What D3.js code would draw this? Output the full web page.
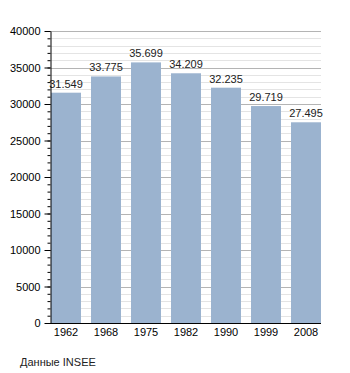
<!DOCTYPE html>
<html>
<head>
<meta charset="utf-8">
<script src="https://cdn.jsdelivr.net/npm/d3@7"></script>
<style>
  body { margin: 0; background: #fff; }
  text { font-family: "Liberation Sans", Arial, sans-serif; }
</style>
</head>
<body>
<div id="chart"></div>
<script>
// population by census year
const years = ["1962", "1968", "1975", "1982", "1990", "1999", "2008"];
const population = [31549, 33775, 35699, 34209, 32235, 29719, 27495];
const labels = ["31.549", "33.775", "35.699", "34.209", "32.235", "29.719", "27.495"];
const sourceText = "Данные INSEE";

const w = 350, h = 373;
const mLeft = 51, mRight = 321, mTop = 31, mBottom = 323;

let svg = d3.select("#chart").append("svg")
  .attr("width", w)
  .attr("height", h);

let x = d3.scaleBand()
  .domain(years)
  .range([mLeft, mRight])
  .paddingInner(0.25)
  .paddingOuter(0);

let y = d3.scaleLinear()
  .domain([0, 40000])
  .range([mBottom, mTop]);

// minor grid every 1000
svg.append("g").selectAll("line")
  .data(d3.range(1000, 40001, 1000).filter(v => v % 5000 != 0))
  .enter().append("line")
  .attr("x1", mLeft).attr("x2", mRight)
  .attr("y1", d => Math.round(y(d)) + 0.5).attr("y2", d => Math.round(y(d)) + 0.5)
  .attr("stroke", "#e4e4e4");

// major grid every 5000
svg.append("g").selectAll("line")
  .data(d3.range(5000, 40001, 5000))
  .enter().append("line")
  .attr("x1", mLeft).attr("x2", mRight)
  .attr("y1", d => Math.round(y(d)) + 0.5).attr("y2", d => Math.round(y(d)) + 0.5)
  .attr("stroke", "#b4b4b4");

// bars
svg.append("g").selectAll("rect")
  .data(population)
  .enter().append("rect")
  .attr("x", (d, i) => x(years[i]))
  .attr("y", d => y(d))
  .attr("width", x.bandwidth())
  .attr("height", d => mBottom - y(d))
  .attr("fill", "#9bb3cf");

// value labels
svg.append("g").selectAll("text")
  .data(population)
  .enter().append("text")
  .attr("x", (d, i) => x(years[i]) + x.bandwidth() / 2)
  .attr("y", d => y(d) - 5)
  .attr("text-anchor", "middle")
  .attr("font-size", 11)
  .attr("fill", "#222")
  .text((d, i) => labels[i]);

// y axis with minor ticks
let yMinor = d3.axisLeft(y)
  .tickValues(d3.range(0, 40001, 1000))
  .tickSize(3)
  .tickFormat("");
svg.append("g")
  .attr("transform", "translate(" + (mLeft - 0.5) + ",0)")
  .call(yMinor)
  .call(g => g.select(".domain").remove())
  .attr("color", "#000");

let yAxis = d3.axisLeft(y)
  .tickValues(d3.range(0, 40001, 5000))
  .tickFormat(d3.format("d"))
  .tickSize(6)
  .tickSizeOuter(0)
  .tickPadding(4);
svg.append("g")
  .attr("transform", "translate(" + (mLeft - 0.5) + ",0)")
  .call(yAxis)
  .attr("color", "#000")
  .attr("font-size", 11)
  .attr("font-family", "Liberation Sans, Arial, sans-serif");

// x axis
let xAxis = d3.axisBottom(x)
  .tickSize(0)
  .tickPadding(5);
svg.append("g")
  .attr("transform", "translate(0," + (mBottom + 0.5) + ")")
  .call(xAxis)
  .attr("color", "#000")
  .attr("font-size", 11)
  .attr("font-family", "Liberation Sans, Arial, sans-serif")
  .call(g => g.select(".domain").attr("d", "M" + (mLeft - 1) + ",0H" + mRight));

// source note
svg.append("text")
  .attr("x", 20)
  .attr("y", 366)
  .attr("font-size", 11)
  .attr("fill", "#222")
  .text(sourceText);
</script>
</body>
</html>
